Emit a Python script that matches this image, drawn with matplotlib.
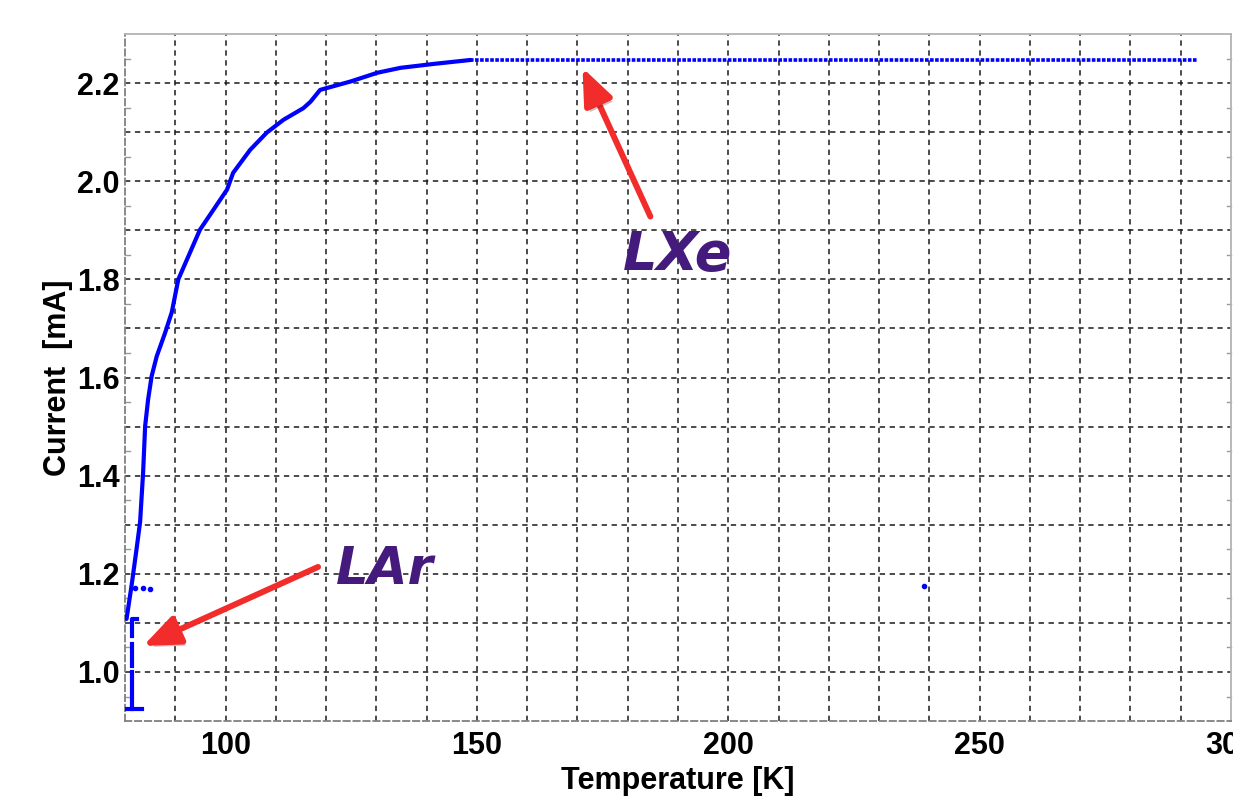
import numpy as np
import matplotlib
matplotlib.use("Agg")
import matplotlib.pyplot as plt
import matplotlib.patheffects as pe

# LXe cool-down curve (temperature in K, current in mA)
lxe_T = [80.3, 81.3, 82.3, 83.0, 83.6, 84.0, 84.6, 85.3, 86.3, 88.0, 89.3, 90.6,
         94.9, 100.3, 101.5, 104.9, 108.2, 111.5, 115.5, 116.9, 118.8, 124.8,
         130.2, 134.8, 141.4, 148.7]
lxe_I = [1.108, 1.176, 1.251, 1.306, 1.407, 1.501, 1.556, 1.603, 1.643, 1.692,
         1.733, 1.800, 1.901, 1.983, 2.017, 2.064, 2.099, 2.125, 2.149, 2.162,
         2.186, 2.203, 2.221, 2.231, 2.239, 2.247]

# saturated plateau
flat_T = [148.7, 293.5]
flat_I = [2.247, 2.247]

# LAr segment (nan = gaps in the trace)
lar_T = [80.4, 83.4, np.nan, 81.4, 81.4, np.nan, 81.4, 81.4, np.nan, 81.4, 81.4, 82.4]
lar_I = [0.925, 0.925, np.nan, 0.925, 1.000, np.nan, 1.013, 1.057, np.nan, 1.073, 1.108, 1.108]

# stray points
stray_T = [82.0, 83.6, 85.0, 239.0]
stray_I = [1.172, 1.172, 1.170, 1.175]

x_ticks = [100, 150, 200, 250, 300]
y_ticks = [1.0, 1.2, 1.4, 1.6, 1.8, 2.0, 2.2]

plt.rcParams['font.family'] = ['Liberation Sans', 'DejaVu Sans']

fig = plt.figure(figsize=(12.33, 8.05), dpi=100)
ax = fig.add_axes([0.1014, 0.1043, 0.8970, 0.8535])

blue = '#0000FF'
ax.plot(lxe_T, lxe_I, color=blue, lw=3.0, solid_capstyle='round',
        solid_joinstyle='round', zorder=3)
ax.plot(flat_T, flat_I, color=blue, lw=2.6, ls=(0, (1, 0.4)), zorder=3)
ax.plot(lar_T, lar_I, color=blue, lw=3.0, zorder=3)
ax.plot(stray_T, stray_I, ls='none', marker='o', ms=3, color=blue, zorder=3)

ax.set_xlim(80, 300)
ax.set_ylim(0.9, 2.3)
ax.set_xticks(x_ticks)
ax.set_yticks(y_ticks)
ax.set_yticklabels([f"{v:.1f}" for v in y_ticks])

# dashed grid
for xv in np.arange(90, 300, 10):
    ax.axvline(xv, color='0.1', lw=1.1, ls=(0, (3.5, 3)), zorder=1)
for yv in np.arange(1.0, 2.3, 0.1):
    ax.axhline(yv, color='0.1', lw=1.1, ls=(0, (3.5, 3)), zorder=1)

ax.tick_params(which='both', length=0, labelsize=22)
ax.tick_params(axis='x', pad=7)
ax.tick_params(axis='y', pad=4)
for lab in ax.get_xticklabels() + ax.get_yticklabels():
    lab.set_fontweight('bold')

# small inward ticks at the 0.05 offsets
for yv in np.arange(0.95, 2.3, 0.1):
    ax.plot([80, 80.9], [yv, yv], color='0.6', lw=1, zorder=2, clip_on=False)
    ax.plot([299.1, 300], [yv, yv], color='0.6', lw=1, zorder=2, clip_on=False)

for s in ['left', 'bottom']:
    ax.spines[s].set_color('0.5')
    ax.spines[s].set_linestyle((0, (3.5, 2)))
    ax.spines[s].set_linewidth(1.3)
for s in ['top', 'right']:
    ax.spines[s].set_color('0.7')
    ax.spines[s].set_linewidth(1.3)

ax.set_xlabel('Temperature [K]', fontsize=22, fontweight='bold', labelpad=4)
ax.set_ylabel('Current  [mA]', fontsize=22, fontweight='bold', labelpad=3)

# annotations
purple = '#441A7C'
red = '#F22B2B'
shadow = [pe.SimplePatchShadow(offset=(2, -3), alpha=0.25), pe.Normal()]
arrow = dict(arrowstyle='-|>,head_length=1.1,head_width=0.45', color=red, lw=4.3,
             mutation_scale=20, shrinkA=0, shrinkB=0, path_effects=shadow)
ax.annotate('', xy=(171.0, 2.231), xytext=(184.5, 1.928), arrowprops=arrow, zorder=4)
ax.annotate('', xy=(83.6, 1.053), xytext=(118.4, 1.214), arrowprops=arrow, zorder=4)

ax.text(179.0, 1.82, 'LXe', fontsize=39, fontweight='bold', fontstyle='italic',
        family='DejaVu Sans', color=purple, zorder=5)
ax.text(122.0, 1.18, 'LAr', fontsize=37, fontweight='bold', fontstyle='italic',
        family='DejaVu Sans', color=purple, zorder=5)

fig.savefig('out.png', dpi=100)
